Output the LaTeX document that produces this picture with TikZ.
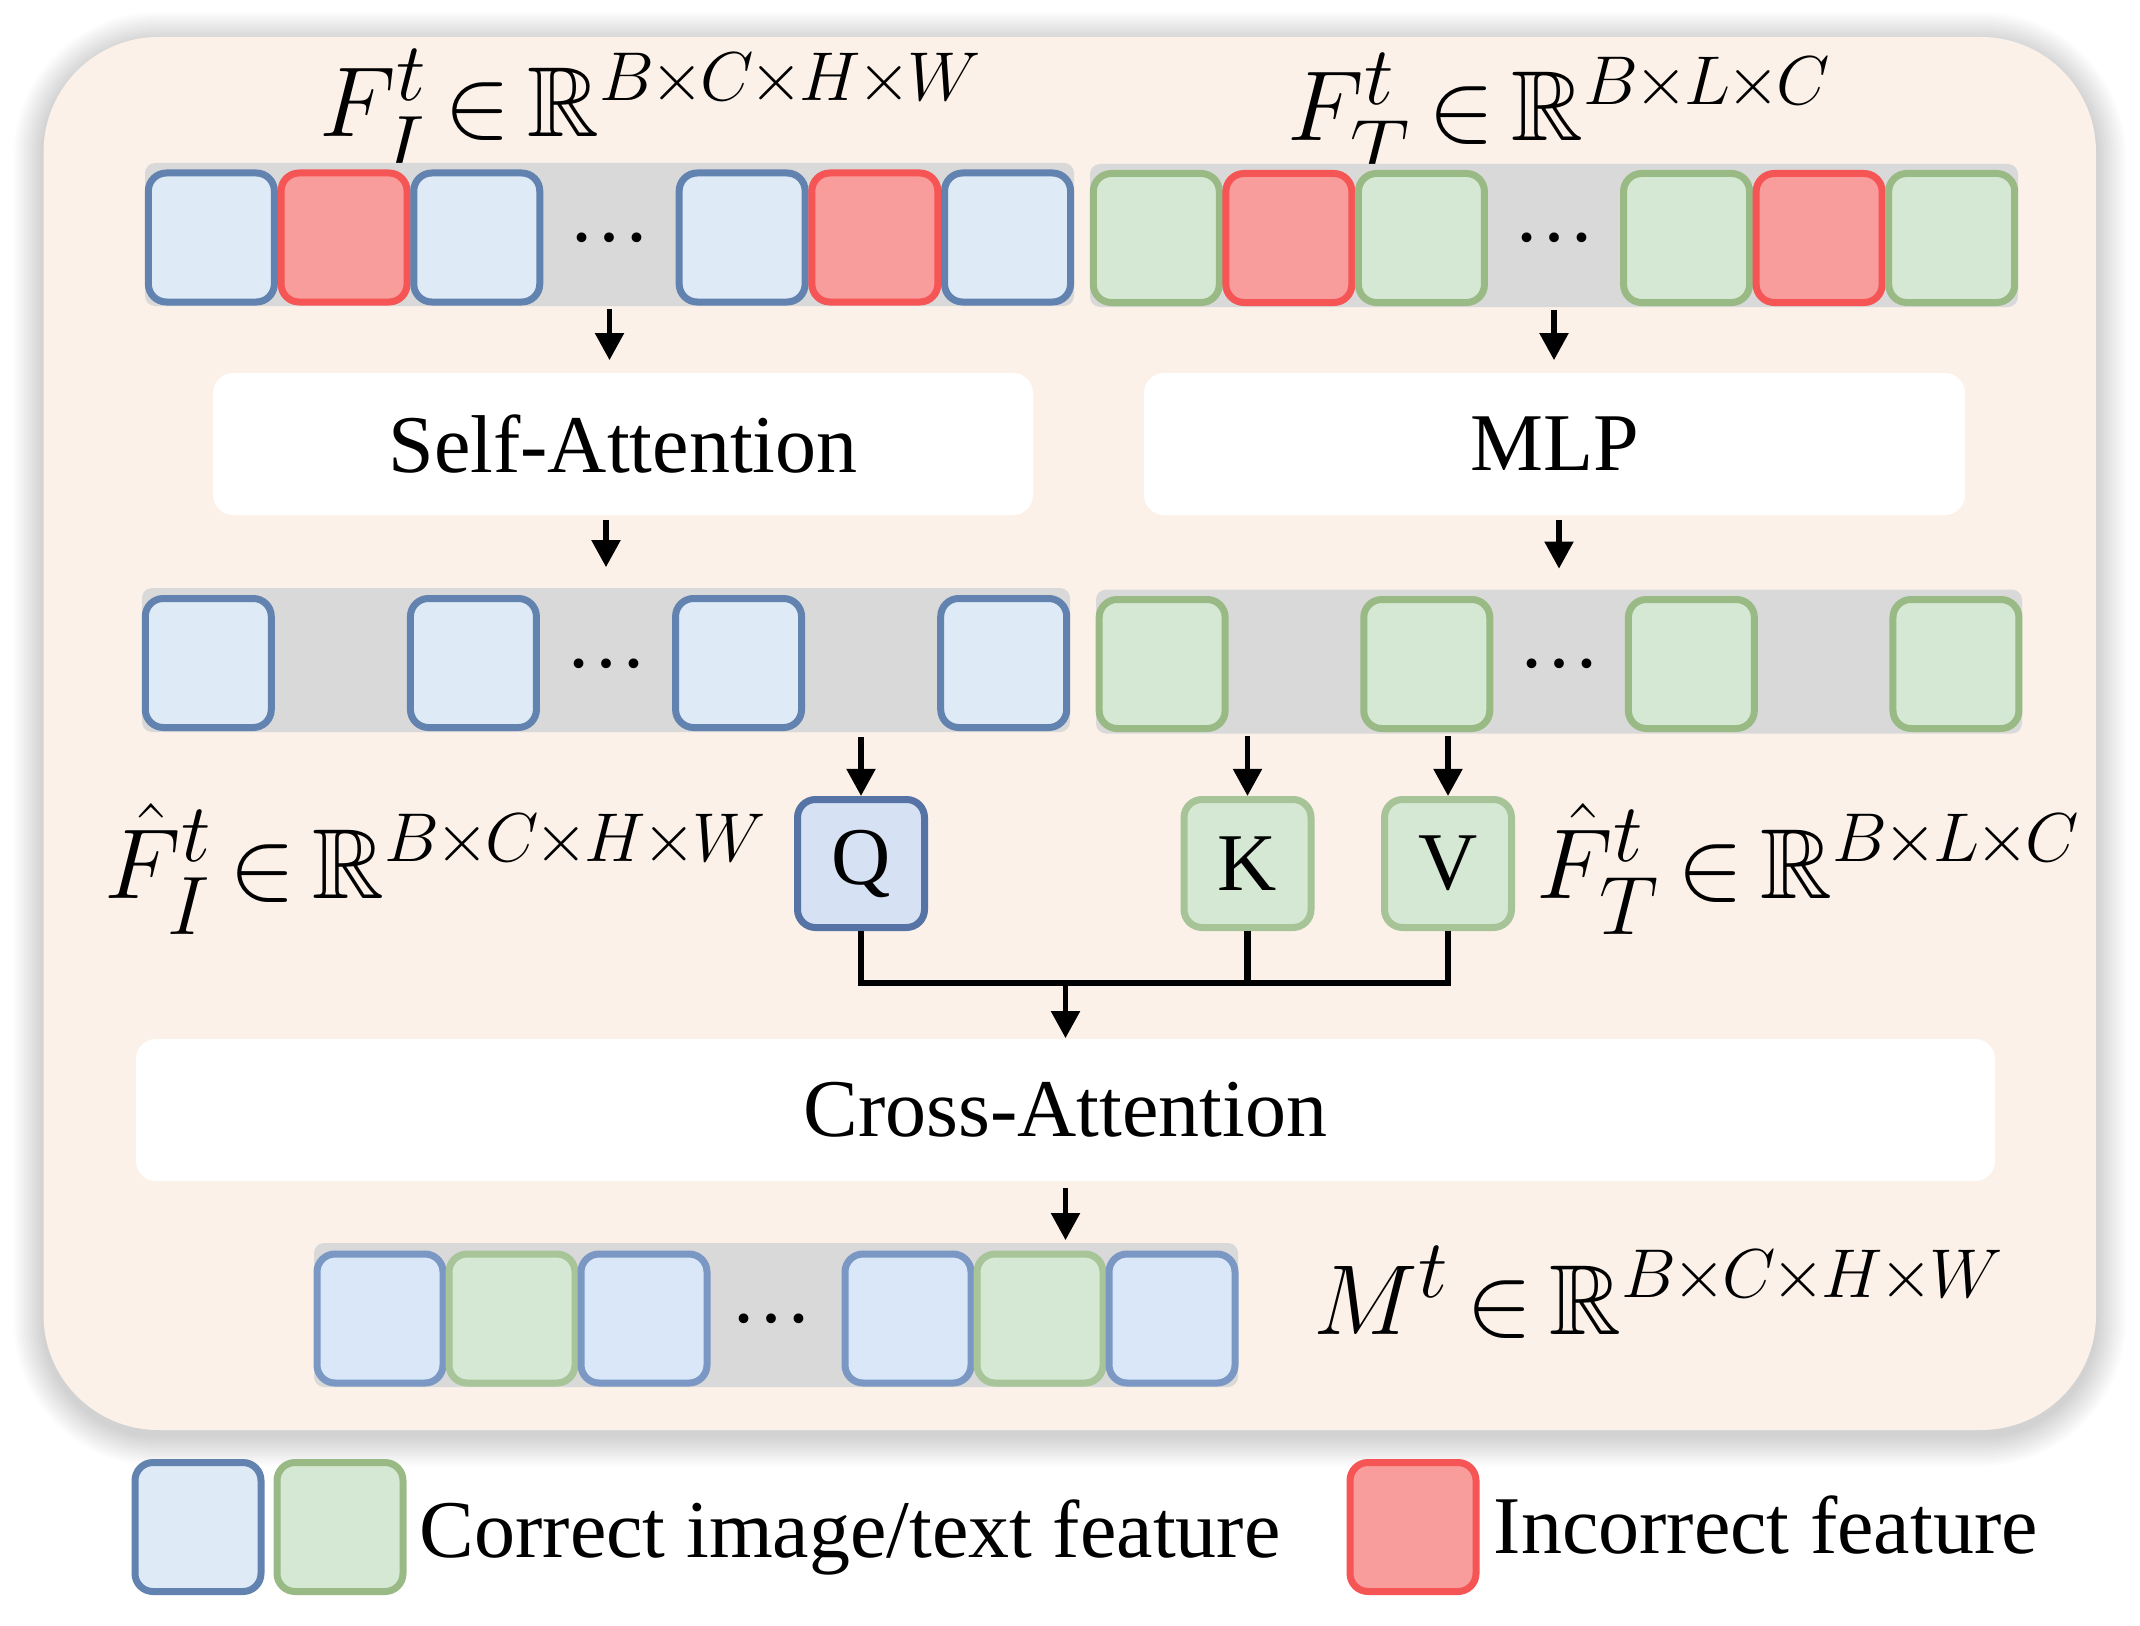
\documentclass[tikz,border=0pt]{standalone}
\usepackage{amssymb}
\usepackage[no-math]{fontspec}
\setmainfont{Liberation Serif}
\usetikzlibrary{arrows.meta,calc}
\definecolor{beige}{HTML}{FBF1E8}
\definecolor{blueF}{HTML}{DEEBF7}
\definecolor{blueD}{HTML}{6282B0}
\definecolor{greenF}{HTML}{D5E8D4}
\definecolor{greenD}{HTML}{99BA84}
\definecolor{redF}{HTML}{F89C9C}
\definecolor{redD}{HTML}{F55555}
\definecolor{barG}{HTML}{D9D9D9}
\definecolor{qF}{HTML}{D6E1F3}
\definecolor{qD}{HTML}{5673A6}
\definecolor{kvD}{HTML}{A6C497}
\definecolor{mbF}{HTML}{D9E7F9}
\definecolor{mbD}{HTML}{7B98C4}
\definecolor{mgD}{HTML}{A8C599}
\newcommand{\myx}{\mkern-1mu\times\mkern-1mu}
\newcommand{\myin}{\mkern-2mu\in\mkern-2mu\mathbb{R}}
\begin{document}
\begin{tikzpicture}[x=0.25pt,y=-0.25pt,
  feat/.style={draw, rounded corners=4.5pt, line width=1.75pt, minimum width=31.5pt, minimum height=32.25pt, inner sep=0pt},
  feat-b/.style={feat, fill=blueF, draw=blueD},
  feat-g/.style={feat, fill=greenF, draw=greenD},
  feat-r/.style={feat, fill=redF, draw=redD},
  feat-mb/.style={feat, fill=mbF, draw=mbD},
  feat-mg/.style={feat, fill=greenF, draw=mgD},
  feat-q/.style={feat, fill=qF, draw=qD, font=\fontsize{20.5}{24}\selectfont},
  feat-kv/.style={feat, fill=greenF, draw=kvD, font=\fontsize{20.5}{24}\selectfont},
  bar/.style={fill=barG, rounded corners=2.5pt, inner sep=0pt},
  wbox/.style={fill=white, rounded corners=5pt, inner sep=0pt, minimum height=35.5pt, font=\fontsize{20.5}{24}\selectfont},
  dots/.style={anchor=base, inner sep=0pt, font=\fontsize{20.5}{24}\selectfont},
  mlabel/.style={anchor=base west, inner sep=0pt, font=\Huge},
  ltext/.style={anchor=base west, inner sep=0pt, font=\fontsize{20.5}{24}\selectfont},
  arr/.style={line width=1.4pt, -{Triangle[length=6.8pt,width=7pt]}},
  conn/.style={line width=1.6pt}
]
\useasboundingbox (0,0) rectangle (2140,1626);
% shadow
\foreach \k in {1,...,15}{
  \pgfmathsetmacro\rr{(115+2*\k)*0.25}
  \fill[black,opacity=0.011,rounded corners=\rr pt] (43.5-2*\k,42-2*\k) rectangle (2096+2*\k,1436+2*\k);
}
\fill[beige, rounded corners=28.75pt] (43.5,37) rectangle (2096,1430);

% labels top
\node[mlabel] (lTL) at (319,137) {$F_I^t \myin^{\scriptscriptstyle B\myx C\myx H\myx W}$};
\node[mlabel] (lTR) at (1287,141) {$F_T^t \myin^{\scriptscriptstyle B\myx L\myx C}$};

% top bars
\node[bar, minimum width=232.25pt, minimum height=35.75pt] (barTL) at (609.5,234.5) {};
\node[bar, minimum width=232pt, minimum height=35.75pt] (barTR) at (1554,235.5) {};
\foreach \i/\c in {0/b,1/r,2/b,4/b,5/r,6/b}
  \node[feat-\c] (tl\i) at ({145+132.7*(\i+0.5)},237.5) {};
\foreach \i/\c in {0/g,1/r,2/g,4/g,5/r,6/g}
  \node[feat-\c] (tr\i) at ({1090+132.57*(\i+0.5)},238) {};
\node[dots] (dTL) at (609.5,241) {…};
\node[dots] (dTR) at (1554,241) {…};

% white boxes
\node[wbox, minimum width=205pt] (SA) at (623,444) {Self-Attention};
\node[wbox, minimum width=205.25pt] (MLP) at (1554.5,444) {MLP};

% middle bars
\node[bar, minimum width=232pt, minimum height=36pt] (barML) at (606,660) {};
\node[bar, minimum width=231.5pt, minimum height=36pt] (barMR) at (1559,661.5) {};
\foreach \i in {0,2,4,6}
  \node[feat-b] (ml\i) at ({142+132.57*(\i+0.5)},663) {};
\foreach \i in {0,2,4,6}
  \node[feat-g] (mr\i) at ({1096+132.3*(\i+0.5)},664) {};
\node[dots] (dML) at (606,667) {…};
\node[dots] (dMR) at (1559,667) {…};

% Q K V
\node[feat-q, minimum width=31.75pt, minimum height=32pt] (Q) at (861,863.5) {Q};
\node[feat-kv, minimum width=31.75pt, minimum height=32pt] (K) at (1247.5,863.5) {K};
\node[feat-kv, minimum width=31.75pt, minimum height=32pt] (V) at (1448,863.5) {V};
\node[mlabel] (lML) at (104,898) {$\hat F_I^t \myin^{\scriptscriptstyle B\myx C\myx H\myx W}$};
\node[mlabel] (lMR) at (1536,898) {$\hat F_T^t \myin^{\scriptscriptstyle B\myx L\myx C}$};

% cross attention
\node[wbox, minimum width=464.75pt] (CA) at (1065.5,1110) {Cross-Attention};

% bottom bar
\node[bar, minimum width=231pt, minimum height=36pt] (barB) at (776,1315) {};
\foreach \i/\c in {0/mb,1/mg,2/mb,4/mb,5/mg,6/mb}
  \node[feat-\c] (bt\i) at ({314+132*(\i+0.5)},1318.5) {};
\node[dots] (dB) at (771,1322) {…};
\node[mlabel] (lB) at (1313,1334) {$M^t \myin^{\scriptscriptstyle B\myx C\myx H\myx W}$};

% arrows
\draw[arr, shorten <=0.5pt, shorten >=3pt] (barTL.south) -- (barTL.south |- SA.north);
\draw[arr, shorten <=0.5pt, shorten >=3pt] (barTR.south) -- (barTR.south |- MLP.north);
\draw[arr, shorten <=1pt, shorten >=5pt] (barML.north |- SA.south) -- (barML.north);
\draw[arr, shorten <=1pt, shorten >=5pt] (barMR.north |- MLP.south) -- (barMR.north);
\draw[arr, shorten <=1pt] (Q.north |- barML.south) -- (Q.north);
\draw[arr, shorten <=0.5pt] (K.north |- barMR.south) -- (K.north);
\draw[arr, shorten <=0.5pt] (V.north |- barMR.south) -- (V.north);
\coordinate (j) at (CA.north |- 0,983);
\draw[conn] (Q.south) -- (Q.south |- 0,983) -| (V.south);
\draw[conn] (K.south) -- (K.south |- 0,983);
\draw[arr] (j) -- (CA.north);
\draw[arr, shorten <=1.5pt, shorten >=0.5pt] (CA.south) -- (CA.south |- barB.north);

% legend
\node[feat-b] (lgB) at (198,1527) {};
\node[feat-g] (lgG) at (340,1527) {};
\node[feat-r] (lgR) at (1413,1527) {};
\node[ltext] (lgT1) at (419,1557) {Correct image/text feature};
\node[ltext] (lgT2) at (1493,1553) {Incorrect feature};
\end{tikzpicture}
\end{document}
